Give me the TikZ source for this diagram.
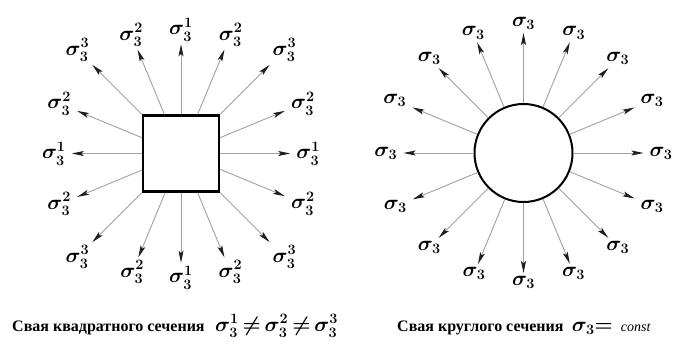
\documentclass[tikz,border=0pt]{standalone}
\usepackage{fontspec}
\setmainfont{Liberation Serif}
\usetikzlibrary{arrows.meta,positioning,calc}
\definecolor{RayGray}{HTML}{A0A0A0}
\definecolor{TipDark}{HTML}{1E1E1E}

\begin{document}
\begin{tikzpicture}[x=1pt,y=1pt,node distance=6pt]
    \tikzset{stress/.style={draw=RayGray,line width=0.9pt,-{Stealth[length=12pt,width=5pt,inset=2.5pt,color=TipDark,fill=TipDark]}},
      lab/.style={inner xsep=6pt,inner ysep=3pt,font=\fontsize{20}{22}\selectfont\boldmath},
      captext/.style={inner sep=0pt,font=\fontsize{16}{18}\selectfont\bfseries},
      capmath/.style={inner sep=0pt,font=\fontsize{22}{24}\selectfont\boldmath}}
    \useasboundingbox (0,0) rectangle (678,341);
    % square pile
    \node[draw,line width=2.4pt,minimum size=76pt,inner sep=0pt] (sq) at (181,187.5) {};
    \foreach \i/\s in {0/1,1/2,2/3,3/2,4/1,5/2,6/3,7/2,8/1,9/2,10/3,11/2,12/1,13/2,14/3,15/2}{
      \pgfmathsetmacro\a{90-22.5*\i}
      \pgfmathsetmacro\b{270-22.5*\i}
      \coordinate (qe\i) at ($(sq.\a)+(\a:70)$);
      \draw[stress] (sq.\a) -- (qe\i);
      \node[lab,anchor=\b] (ql\i) at (qe\i) {$\sigma_3^{\s}$};
    }
    % round pile
    \node[draw,circle,line width=2pt,minimum size=98pt,inner sep=0pt] (ci) at (523.5,188) {};
    \foreach \i in {0,...,15}{
      \pgfmathsetmacro\a{90-22.5*\i}
      \pgfmathsetmacro\b{270-22.5*\i}
      \coordinate (ce\i) at ($(ci.\a)+(\a:70)$);
      \draw[stress] (ci.\a) -- (ce\i);
      \node[lab,anchor=\b] (cl\i) at (ce\i) {$\sigma_3$};
    }
    % captions
    \node[captext,anchor=base west] (capq) at (12,10) {Свая квадратного сечения};
    \node[capmath,base right=10pt of capq] (mq) {$\sigma_3^1\,{\neq}\,\sigma_3^2\,{\neq}\,\sigma_3^3$};
    \node[captext,anchor=base west] (capc) at (397,10) {Свая круглого сечения};
    \node[capmath,base right=8pt of capc] (mc) {$\sigma_3{=}$\hspace{8pt}\fontsize{14}{16}\selectfont\mdseries\itshape const};
  \end{tikzpicture}
\end{document}
